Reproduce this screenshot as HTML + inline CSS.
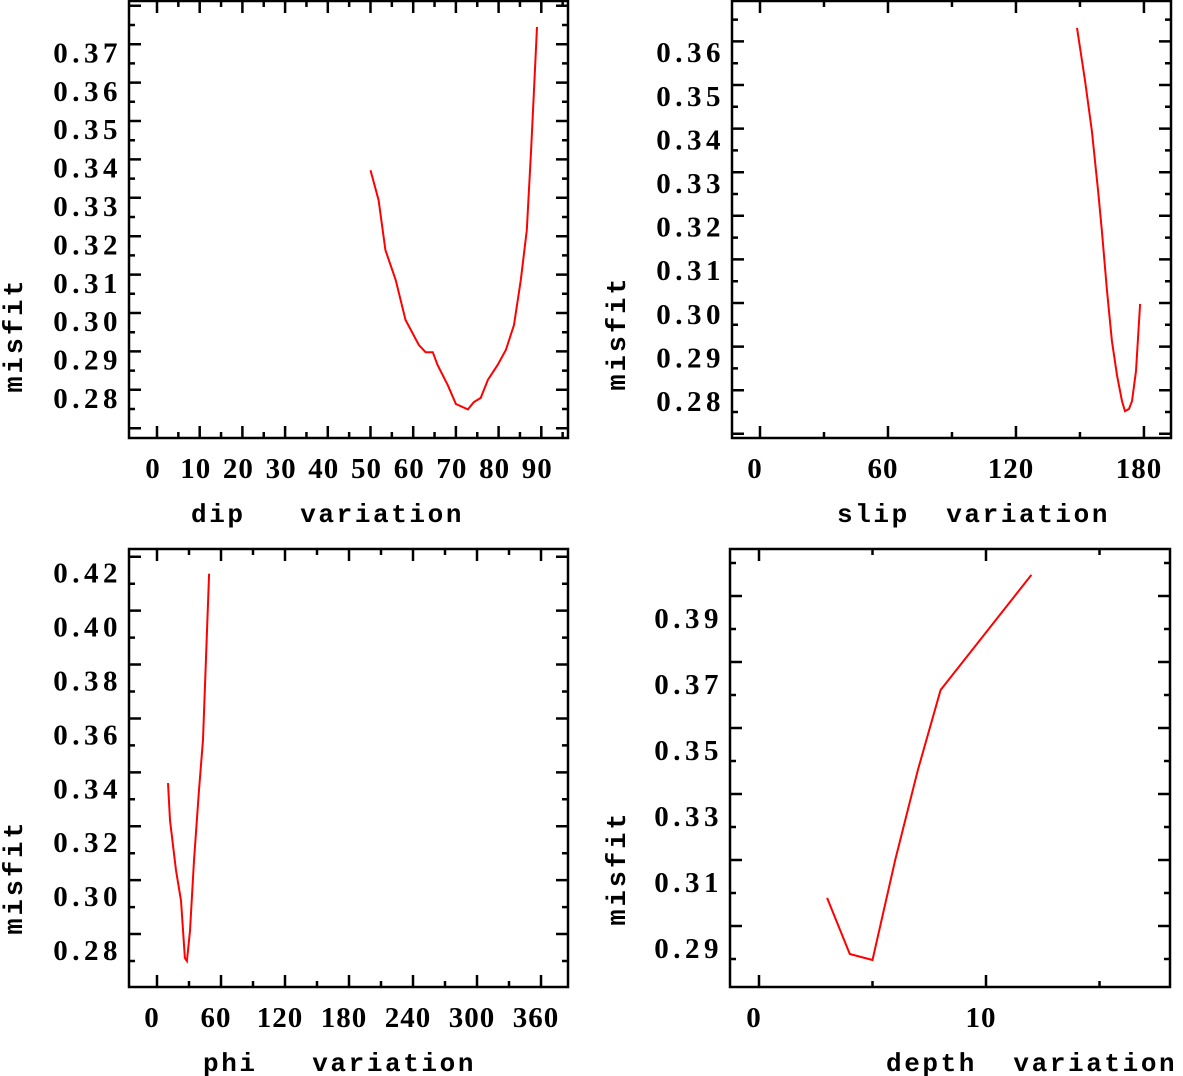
<!DOCTYPE html>
<html><head><meta charset="utf-8"><style>
html,body{margin:0;padding:0;background:#fff;}
svg{display:block;}
text{font-family:"Liberation Mono",monospace;font-weight:bold;fill:#000;}
text.tl{font-family:"Liberation Serif",serif;}
</style></head><body>
<svg id="chart" width="1183" height="1076" viewBox="0 0 1183 1076" xmlns="http://www.w3.org/2000/svg"></svg>
<script>
// Dip panel
const dipX = [50.0,51.9,53.5,55.9,58.2,61.3,62.9,64.6,65.7,68.1,70.0,72.8,74.2,75.8,77.5,79.8,81.7,83.6,85.2,86.6,87.6,88.3,89.0];
const dipY = [0.3422,0.3344,0.3214,0.3136,0.3032,0.2967,0.2948,0.2948,0.2915,0.2862,0.2813,0.2799,0.2818,0.2829,0.2876,0.2915,0.2954,0.3019,0.3136,0.3266,0.3474,0.3631,0.3795];
const dipXTicks = ["0","10","20","30","40","50","60","70","80","90"];
const dipYTicks = ["0.28","0.29","0.30","0.31","0.32","0.33","0.34","0.35","0.36","0.37"];
// Slip panel
const slipX = [148.6,152.4,155.6,158.5,160.3,162.7,165.0,167.4,169.7,171.1,173.0,174.4,176.3,178.2];
const slipY = [0.3681,0.3559,0.3444,0.3307,0.3215,0.3078,0.2963,0.2883,0.2825,0.2802,0.2807,0.2825,0.2894,0.3048];
const slipXTicks = ["0","60","120","180"];
const slipYTicks = ["0.28","0.29","0.30","0.31","0.32","0.33","0.34","0.35","0.36"];
// Phi panel
const phiX = [10.3,12.2,17.8,22.5,26.2,28.0,30.9,34.7,39.4,43.1,48.8];
const phiY = [0.3460,0.3322,0.3136,0.3024,0.2811,0.2800,0.2912,0.3173,0.3434,0.3621,0.4237];
const phiXTicks = ["0","60","120","180","240","300","360"];
const phiYTicks = ["0.28","0.30","0.32","0.34","0.36","0.38","0.40","0.42"];
// Depth panel
const depthX = [3,4,5,6,7,8,12];
const depthY = [0.3085,0.2915,0.2897,0.3200,0.3473,0.3715,0.4064];
const depthXTicks = ["0","10"];
const depthYTicks = ["0.29","0.31","0.33","0.35","0.37","0.39"];

const NS="http://www.w3.org/2000/svg";
const svg=document.getElementById('chart');
function mk(tag,attrs,parent){const e=document.createElementNS(NS,tag);for(const k in attrs)e.setAttribute(k,attrs[k]);(parent||svg).appendChild(e);return e;}

function panel(p){
  const g=mk('g',{});
  
  
  const sx=v=>p.x0+(v-p.xv0)*p.xs;
  const sy=v=>p.y0-(v-p.yv0)*p.ys;
  const fr=mk('rect',{x:p.L,y:p.T,width:p.R-p.L,height:p.B-p.T,fill:'none',stroke:'#000','stroke-width':2.5},g);
  
  
  for(let v=p.xmin;v<=p.xmax+1e-9;v+=p.xminor){
    const X=sx(v); if(X<p.L+2||X>p.R-2) continue;
    const major=Math.abs(Math.round(v/p.xmajor)*p.xmajor-v)<1e-6;
    const len=major?12:6;
    const t=mk('path',{d:`M${X},${p.B}V${p.B-len}M${X},${p.T}V${p.T+len}`,stroke:'#000','stroke-width':2.5},g);
    
    
  }
  p.xt.forEach(s=>{
    const t=mk('text',{class:'tl',x:sx(parseFloat(s))+p.xlo,y:p.B+40,'font-size':29,'letter-spacing':1,'text-anchor':'middle'},g);
    t.textContent=s;
    
    
  });
  const n=Math.round((p.ymax-p.ymin)/p.yminor);
  for(let i=0;i<=n;i++){
    const v=p.ymin+i*p.yminor; const Y=sy(v);
    if(Y<p.T+2||Y>p.B-2) continue;
    const major=(i%p.ymajorEvery)===0;
    const len=major?12:6;
    const t=mk('path',{d:`M${p.L},${Y}H${p.L+len}M${p.R},${Y}H${p.R-len}`,stroke:'#000','stroke-width':2.5},g);
    
    
  }
  p.yt.forEach(s=>{
    const t=mk('text',{class:'tl',x:p.L-7,y:sy(parseFloat(s))-1,'font-size':29,'letter-spacing':4.5,'text-anchor':'end'},g);
    t.textContent=s;
    
    
  });
  const d=p.xs_.map((v,i)=>(i?'L':'M')+sx(v).toFixed(1)+','+sy(p.ys_[i]).toFixed(1)).join('');
  const ln=mk('path',{d:d,fill:'none',stroke:'#ff0000','stroke-width':2},g);
  
  
  const yt=mk('text',{x:0,y:0,'font-size':27,'letter-spacing':3,'text-anchor':'middle',transform:`translate(${p.ytx},${p.yty}) rotate(-90)`},g);
  yt.textContent='misfit';
  
  
  const xt=mk('text',{x:p.xtx,y:p.B+84,'font-size':26,'letter-spacing':2.6},g);
  xt.setAttribute('style','white-space:pre');
  xt.textContent=p.xtitle;
  
  
}

panel({name:'dip',L:129,R:568,T:1,B:438,x0:157,xv0:0,xs:4.27,y0:409,yv0:0.28,ys:3840,
  xmin:0,xmax:95,xminor:5,xmajor:10,ymin:0.275,ymax:0.39,yminor:0.005,ymajorEvery:2,
  xt:dipXTicks,yt:dipYTicks,xs_:dipX,ys_:dipY,xlo:-4,ytx:22,yty:335,xtx:191,xtitle:'dip   variation'});
panel({name:'slip',L:732,R:1171,T:1,B:438,x0:760,xv0:0,xs:2.133,y0:412,yv0:0.28,ys:4360,
  xmin:0,xmax:190,xminor:30,xmajor:60,ymin:0.275,ymax:0.37,yminor:0.005,ymajorEvery:2,
  xt:slipXTicks,yt:slipYTicks,xs_:slipX,ys_:slipY,xlo:-5,ytx:625,yty:333,xtx:837,xtitle:'slip  variation'});
panel({name:'phi',L:129,R:568,T:549,B:987,x0:157,xv0:0,xs:1.0667,y0:961,yv0:0.28,ys:2695,
  xmin:0,xmax:380,xminor:30,xmajor:60,ymin:0.27,ymax:0.43,yminor:0.01,ymajorEvery:2,
  xt:phiXTicks,yt:phiYTicks,xs_:phiX,ys_:phiY,xlo:-5,ytx:22,yty:877,xtx:203,xtitle:'phi   variation'});
panel({name:'depth',L:730,R:1170,T:549,B:987,x0:759,xv0:0,xs:22.7,y0:959,yv0:0.29,ys:3300,
  xmin:0,xmax:19,xminor:5,xmajor:10,ymin:0.28,ymax:0.41,yminor:0.01,ymajorEvery:2,
  xt:depthXTicks,yt:depthYTicks,xs_:depthX,ys_:depthY,xlo:-5,ytx:625,yty:868,xtx:886,xtitle:'depth  variation'});
</script>
</body></html>
